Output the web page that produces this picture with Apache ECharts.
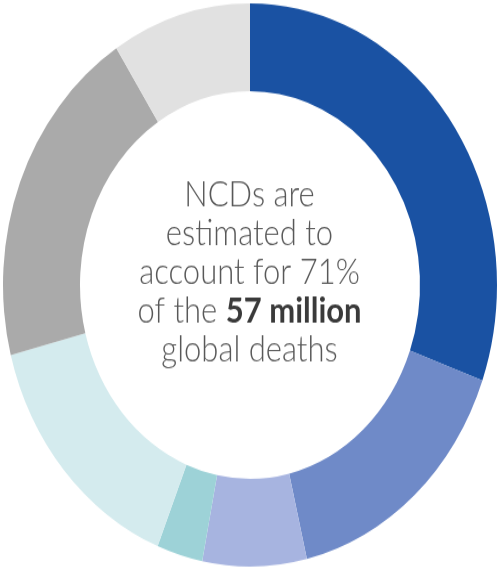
<!DOCTYPE html>
<html>
<head>
<meta charset="utf-8">
<script src="https://cdn.jsdelivr.net/npm/echarts@6/dist/echarts.min.js"></script>
<style>
html,body{margin:0;padding:0;background:#fff;}
#wrap{width:499px;height:569px;overflow:hidden;position:relative;}
#chart{width:499px;height:499px;transform:scaleY(1.14);transform-origin:0 0;position:absolute;left:0;top:0;}
</style>
</head>
<body>
<div id="wrap"><div id="chart"></div></div>
<script>
// Share of global deaths (%), read from the ring
const categories = ['Cardiovascular diseases','Cancers','Chronic respiratory diseases','Diabetes','Other NCDs','Communicable, maternal, perinatal and nutritional conditions','Injuries'];
const values = [30.5, 15.8, 6.8, 3.0, 14.9, 19.9, 9.1];
const colors = ['#1a52a3','#6f8ac8','#a7b4e0','#9dd2d7','#d4ebee','#aaaaaa','#e1e1e1'];
const centerLines = ['NCDs are','estimated to','account for 71%','of the ','57 million','global deaths'];

const chart = echarts.init(document.getElementById('chart'), null, {renderer:'canvas'});
chart.setOption({
  animation:false,
  series:[{
    type:'pie',
    center:[250,250],
    radius:[170,247],
    startAngle:90,
    clockwise:true,
    silent:true,
    label:{show:false},
    labelLine:{show:false},
    itemStyle:{borderWidth:0},
    data: categories.map((c,i)=>({name:c,value:values[i],itemStyle:{color:colors[i]}}))
  }],
  graphic:[{
    type:'text',
    left:'center',
    top:155,
    style:{
      text: '{a|'+centerLines[0]+'}\n{a|'+centerLines[1]+'}\n{a|'+centerLines[2]+'}\n{a|'+centerLines[3]+'}{b|'+centerLines[4]+'}\n{a|'+centerLines[5]+'}',
      textAlign:'center',
      rich:{
        a:{fontFamily:'Lato',fontWeight:300,fontSize:31,lineHeight:34,fill:'#585858'},
        b:{fontFamily:'Lato',fontWeight:'bold',fontSize:31,lineHeight:34,fill:'#3a3a3a'}
      }
    }
  }]
});
</script>
</body>
</html>
